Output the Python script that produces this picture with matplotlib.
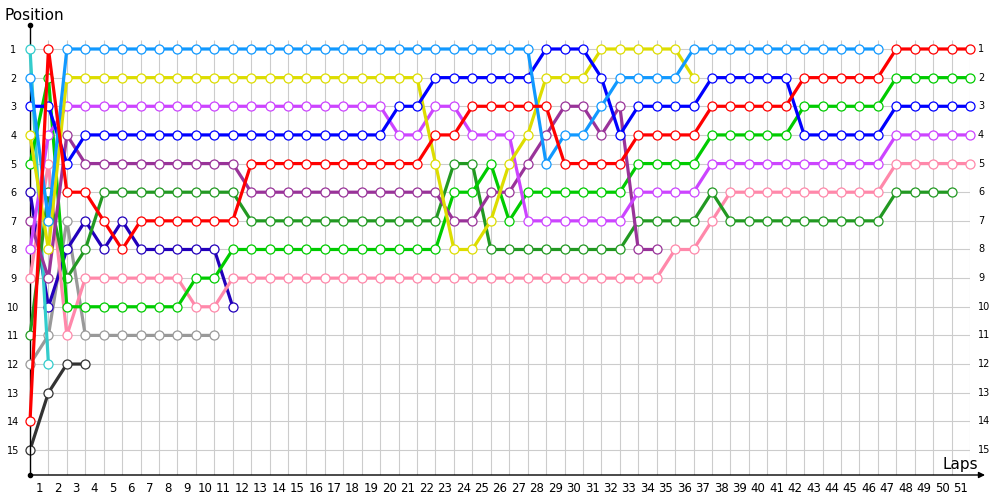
import numpy as np
import matplotlib.pyplot as plt

# posiciones por vuelta (vuelta 0 = salida)
laps = np.arange(0, 52)

red = [14, 1, 6, 6, 7, 8, 7, 7, 7, 7, 7, 7] + [5] * 10 + [4, 4] + [3] * 5 + [5] * 4 + [4] * 4 + [3] * 5 + [2] * 5 + [1] * 5
lightblue = [2, 7] + [1] * 26 + [5, 4, 4, 3, 2, 2, 2, 2] + [1] * 11
yellow = [4, 8] + [2] * 20 + [5, 8, 8, 7, 5, 4, 2, 2, 2, 1, 1, 1, 1, 1, 2]
blue = [3, 3, 5] + [4] * 17 + [3, 3] + [2] * 6 + [1] * 3 + [2, 4] + [3] * 4 + [2] * 5 + [4] * 5 + [3] * 5
violet = [8, 4] + [3] * 18 + [4, 4, 3, 3, 4, 4, 4] + [7] * 6 + [6] * 4 + [5] * 10 + [4] * 5
lime = [5, 2] + [10] * 7 + [9, 9] + [8] * 12 + [6, 6, 5, 7] + [6] * 6 + [5] * 4 + [4] * 5 + [3] * 5 + [2] * 5
darkgreen = [11, 6, 9, 8] + [6] * 8 + [7] * 11 + [5, 5] + [8] * 8 + [7] * 4 + [6] + [7] * 9 + [6] * 4
darkpurple = [7, 9, 4] + [5] * 9 + [6] * 11 + [7, 7, 6, 6, 5, 4, 3, 3, 4, 3, 8, 8]
navy = [6, 10, 8, 7, 8, 7, 8, 8, 8, 8, 8, 10]
pink = [9, 5, 11] + [9] * 6 + [10, 10] + [9] * 24 + [8, 8, 7] + [6] * 9 + [5] * 5
gray = [12, 11, 7] + [11] * 8
black = [15, 13, 12, 12]
cyan = [1, 12]

series = [
    (black, '#333333'),
    (gray, '#999999'),
    (navy, '#2200BB'),
    (cyan, '#33CCCC'),
    (pink, '#FF88AA'),
    (darkgreen, '#229922'),
    (lime, '#00CC00'),
    (darkpurple, '#993399'),
    (violet, '#CC44FF'),
    (yellow, '#DDDD00'),
    (blue, '#0000FF'),
    (lightblue, '#1199FF'),
    (red, '#FF0000'),
]

positions = list(range(1, 16))
y_top, y_bot = 0.162, 15.874

fig = plt.figure(figsize=(10, 5), dpi=100)
ax = fig.add_axes([0.03, 0.05, 0.94, 0.9])
ax.set_xlim(0, 51)
ax.set_ylim(y_bot, y_top)

# rejilla
ax.vlines(laps, 0.68, y_bot, colors='#cccccc', lw=0.8, zorder=0)
ax.hlines(positions, 0, 51, colors='#cccccc', lw=0.8, zorder=0)

for i, (pos, col) in enumerate(series):
    ax.plot(np.arange(len(pos)), pos, color=col, lw=2.3, marker='o', ms=6.5,
            mfc='white', mec=col, mew=0.9, clip_on=False,
            solid_joinstyle='miter', zorder=2 + i)

# ejes
for s in ['top', 'right', 'bottom']:
    ax.spines[s].set_visible(False)
ax.spines['left'].set_color('black')
ax.spines['left'].set_linewidth(1)
ax.annotate('', xy=(1.016, 0), xytext=(0, 0), xycoords='axes fraction',
            arrowprops=dict(arrowstyle='-|>', color='black', lw=1,
                            mutation_scale=9, shrinkA=0, shrinkB=0))
ax.plot([0, 0], [y_top, y_bot], 'ko', ms=3, clip_on=False, zorder=20)

ax.set_xticks(laps[1:] - 0.5)
ax.set_xticklabels([str(k) for k in laps[1:]], fontsize=8.5)
ax.set_yticks(positions)
ax.set_yticklabels([str(p) for p in positions], fontsize=7)
ax.tick_params(axis='x', length=0, pad=5)
ax.tick_params(axis='y', length=0, pad=12)
for lab in ax.get_yticklabels():
    lab.set_ha('center')

for p in positions:
    ax.annotate(str(p), xy=(51, p), xytext=(8, 0), textcoords='offset pixels',
                ha='left', va='center', fontsize=7, annotation_clip=False)

fig.text(0.005, 0.97, 'Position', fontsize=11, ha='left', va='center')
fig.text(0.943, 0.072, 'Laps', fontsize=11, ha='left', va='center')

fig.savefig('out.png', dpi=100)
